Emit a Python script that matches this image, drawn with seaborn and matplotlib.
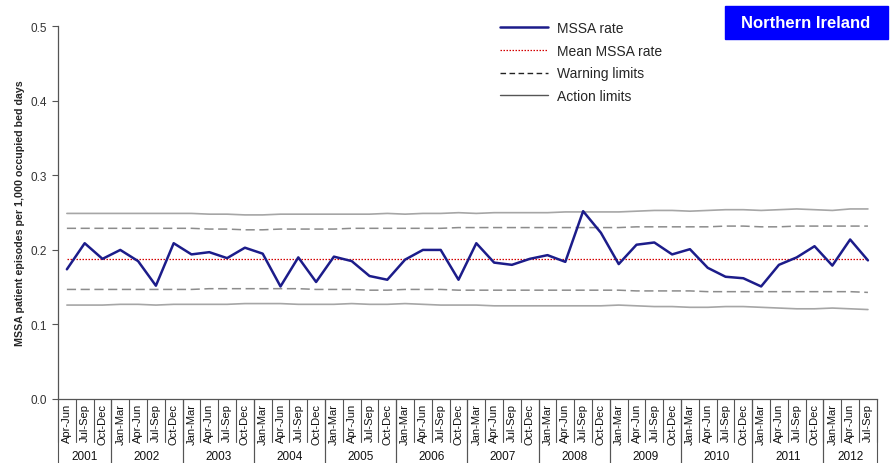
import pandas as pd
import matplotlib.pyplot as plt
import seaborn as sns
from matplotlib.lines import Line2D
from matplotlib.patches import Rectangle

# Quarters shown on the axis
years = [2001, 2002, 2003, 2004, 2005, 2006, 2007, 2008, 2009, 2010, 2011, 2012]
all_quarters = ["Jan-Mar", "Apr-Jun", "Jul-Sep", "Oct-Dec"]
first_year_quarters = ["Apr-Jun", "Jul-Sep", "Oct-Dec"]
last_year_quarters = ["Jan-Mar", "Apr-Jun", "Jul-Sep"]

# MSSA rate per 1,000 occupied bed days
mssa_rate = [0.174, 0.209, 0.188,
             0.200, 0.185, 0.152, 0.209,
             0.194, 0.197, 0.189, 0.203,
             0.195, 0.151, 0.190, 0.157,
             0.191, 0.185, 0.165, 0.160,
             0.187, 0.200, 0.200, 0.160,
             0.209, 0.183, 0.180, 0.188,
             0.193, 0.184, 0.252, 0.223,
             0.181, 0.207, 0.210, 0.194,
             0.201, 0.176, 0.164, 0.162,
             0.151, 0.180, 0.190, 0.205,
             0.179, 0.214, 0.186]
mean_rate = 0.188
upper_action = [0.249, 0.249, 0.249, 0.249, 0.249, 0.249, 0.249, 0.249, 0.248, 0.248,
                0.247, 0.247, 0.248, 0.248, 0.248, 0.248, 0.248, 0.248, 0.249, 0.248,
                0.249, 0.249, 0.250, 0.249, 0.250, 0.250, 0.250, 0.250, 0.251, 0.251,
                0.251, 0.251, 0.252, 0.253, 0.253, 0.252, 0.253, 0.254, 0.254, 0.253,
                0.254, 0.255, 0.254, 0.253, 0.255, 0.255]
upper_warning = [0.229, 0.229, 0.229, 0.229, 0.229, 0.229, 0.229, 0.229, 0.228, 0.228,
                 0.227, 0.227, 0.228, 0.228, 0.228, 0.228, 0.229, 0.229, 0.229, 0.229,
                 0.229, 0.229, 0.230, 0.230, 0.230, 0.230, 0.230, 0.230, 0.230, 0.230,
                 0.230, 0.230, 0.231, 0.231, 0.231, 0.231, 0.231, 0.232, 0.232, 0.231,
                 0.231, 0.232, 0.232, 0.232, 0.232, 0.232]
lower_warning = [0.147, 0.147, 0.147, 0.147, 0.147, 0.147, 0.147, 0.147, 0.148, 0.148,
                 0.148, 0.148, 0.148, 0.148, 0.147, 0.147, 0.147, 0.146, 0.146, 0.147,
                 0.147, 0.147, 0.146, 0.146, 0.146, 0.146, 0.146, 0.146, 0.146, 0.146,
                 0.146, 0.146, 0.145, 0.145, 0.145, 0.145, 0.144, 0.144, 0.144, 0.144,
                 0.144, 0.144, 0.144, 0.144, 0.144, 0.143]
lower_action = [0.126, 0.126, 0.126, 0.127, 0.127, 0.126, 0.127, 0.127, 0.127, 0.127,
                0.128, 0.128, 0.128, 0.127, 0.127, 0.127, 0.128, 0.127, 0.127, 0.128,
                0.127, 0.126, 0.126, 0.126, 0.125, 0.125, 0.125, 0.125, 0.125, 0.125,
                0.125, 0.126, 0.125, 0.124, 0.124, 0.123, 0.123, 0.124, 0.124, 0.123,
                0.122, 0.121, 0.121, 0.122, 0.121, 0.120]

# Build the period table
period_year = []
period_quarter = []
for y in years:
    if y == years[0]:
        qs = first_year_quarters
    elif y == years[-1]:
        qs = last_year_quarters
    else:
        qs = all_quarters
    for q in qs:
        period_year.append(y)
        period_quarter.append(q)

df = pd.DataFrame({
    "idx": range(len(mssa_rate)),
    "year": period_year,
    "quarter": period_quarter,
    "rate": mssa_rate,
    "mean": [mean_rate] * len(mssa_rate),
    "ual": upper_action,
    "uwl": upper_warning,
    "lwl": lower_warning,
    "lal": lower_action,
})

sns.set_style("white")
plt.rcParams["font.family"] = ["Liberation Sans", "DejaVu Sans"]

fig, ax = plt.subplots(figsize=(8.92, 4.64), dpi=100)
fig.subplots_adjust(left=0.065, right=0.983, bottom=0.138, top=0.941)

action_col = "#a6a6a6"
warning_col = "#8c8c8c"
sns.lineplot(data=df, x="idx", y="ual", ax=ax, color=action_col, lw=1.2)
sns.lineplot(data=df, x="idx", y="lal", ax=ax, color=action_col, lw=1.2)
sns.lineplot(data=df, x="idx", y="uwl", ax=ax, color=warning_col, lw=1.1)
sns.lineplot(data=df, x="idx", y="lwl", ax=ax, color=warning_col, lw=1.1)
ax.lines[2].set_dashes([6, 3])
ax.lines[3].set_dashes([6, 3])
sns.lineplot(data=df, x="idx", y="mean", ax=ax, color="#d40000", lw=0.9)
ax.lines[4].set_dashes([1.2, 1.2])
sns.lineplot(data=df, x="idx", y="rate", ax=ax, color="#1c1c8a", lw=1.8)

n = len(df)
ax.set_xlim(-0.5, n - 0.5)
ax.set_ylim(0, 0.5)
ax.set_yticks([0, 0.1, 0.2, 0.3, 0.4, 0.5])
ax.set_yticklabels([f"{v:.1f}" for v in [0, 0.1, 0.2, 0.3, 0.4, 0.5]], fontsize=8.5, color="#333333")
ax.tick_params(axis="y", length=4, width=0.8, color="#555555", pad=4, left=True)
ax.set_xticks(df["idx"])
ax.set_xticklabels(df["quarter"], rotation=90, fontsize=8, color="#111111")
ax.tick_params(axis="x", length=0, pad=3)
ax.set_xlabel("")
ax.set_ylabel("MSSA patient episodes per 1,000 occupied bed days", fontsize=7.7, fontweight="bold", labelpad=4)
sns.despine(ax=ax)
for s in ["left", "bottom"]:
    ax.spines[s].set_color("#555555")
    ax.spines[s].set_linewidth(0.9)

# Separators for the two-level category axis
trans = ax.get_xaxis_transform()
for k in range(n + 1):
    ax.plot([k - 0.5, k - 0.5], [0, -0.115], transform=trans, color="#555555", lw=0.8, clip_on=False)
year_groups = df.groupby("year")["idx"]
for y, g in year_groups:
    lo, hi = g.min() - 0.5, g.max() + 0.5
    ax.plot([lo, lo], [0, -0.18], transform=trans, color="#555555", lw=0.8, clip_on=False)
    ax.plot([hi, hi], [0, -0.18], transform=trans, color="#555555", lw=0.8, clip_on=False)
    ax.text((lo + hi) / 2, -0.152, str(y), transform=trans, ha="center", va="center", fontsize=8.5, color="#111111")

handles = [
    Line2D([], [], color="#1c1c8a", lw=1.8),
    Line2D([], [], color="#d40000", lw=0.9, dashes=[1.2, 1.2]),
    Line2D([], [], color="#222222", lw=1.0, dashes=[4, 2.5]),
    Line2D([], [], color="#555555", lw=1.0),
]
labels = ["MSSA rate", "Mean MSSA rate", "Warning limits", "Action limits"]
fig.legend(handles, labels, loc="upper left", bbox_to_anchor=(0.547, 0.979), frameon=False,
           fontsize=10, handlelength=3.4, handletextpad=0.65, labelspacing=0.62)

# "Northern Ireland" badge
fig.patches.append(Rectangle((725 / 892, 1 - 40 / 464), 163 / 892, 33 / 464, transform=fig.transFigure,
                             facecolor="#0000ff", edgecolor="#0000ff", zorder=5))
fig.text(806 / 892, 1 - 24 / 464, "Northern Ireland", ha="center", va="center", fontsize=12,
         fontweight="bold", color="white", zorder=6)

plt.savefig("out.png", dpi=100)
